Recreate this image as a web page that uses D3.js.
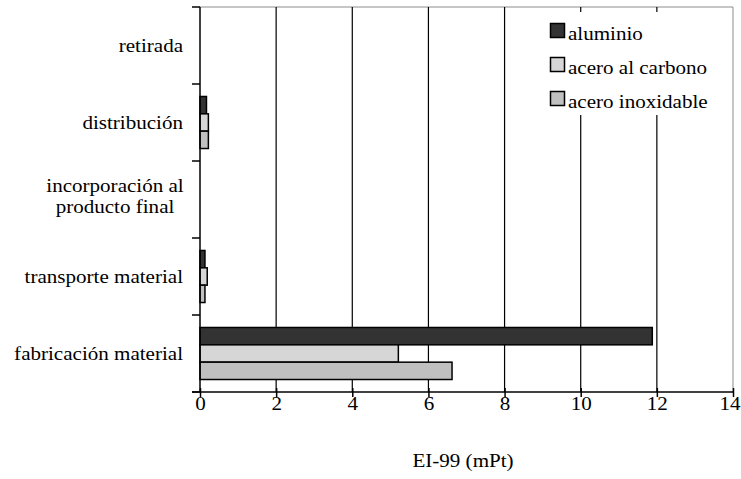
<!DOCTYPE html>
<html>
<head>
<meta charset="utf-8">
<script src="https://cdn.jsdelivr.net/npm/d3@7"></script>
<style>
  html, body { margin: 0; padding: 0; background: #fff; }
</style>
</head>
<body>
<svg id="chart" width="741" height="479"></svg>
<script>
// Life-cycle stages, top to bottom
const categories = [
  ["retirada"],
  ["distribución"],
  ["incorporación al", "producto final"],
  ["transporte material"],
  ["fabricación material"]
];
const seriesNames = ["aluminio", "acero al carbono", "acero inoxidable"];
const seriesColors = ["#333333", "#d6d6d6", "#c0c0c0"];
// EI-99 impact per stage (mPt), one array per material
const aluminio        = [0, 0.17, 0, 0.13, 11.88];
const aceroCarbono    = [0, 0.22, 0, 0.19, 5.21];
const aceroInoxidable = [0, 0.22, 0, 0.13, 6.62];
const xTicks = [0, 2, 4, 6, 8, 10, 12, 14];
const xTitle = "EI-99 (mPt)";

const values = [aluminio, aceroCarbono, aceroInoxidable];
const catKeys = categories.map(c => c.join(" "));

const svg = d3.select("#chart");
const W = 741;
const pLeft = 200, pRight = 733, pTop = 7, pBottom = 392;
const FONT = "'Liberation Serif'";
const FS = 18;

// the lettering is set slightly wide: derive the stretch from the widest label
const probe = svg.append("text").attr("font-family", FONT).attr("font-size", FS).text("fabricación material");
const SX = 169 / probe.node().getComputedTextLength();
probe.remove();

// text helper: places a horizontally stretched label at (tx, ty)
function label(parent, tx, ty, str, anchor) {
  return parent.append("text")
    .attr("transform", `translate(${tx},${ty}) scale(${SX},1)`)
    .attr("text-anchor", anchor || "start")
    .attr("font-family", FONT)
    .attr("font-size", FS).attr("fill", "#000")
    .text(str);
}

const x = d3.scaleLinear().domain([0, 14]).range([pLeft, pRight]);
const y = d3.scaleBand().domain(catKeys).range([pTop, pBottom]).paddingInner(0).paddingOuter(0);
const ySub = d3.scaleBand().domain(seriesNames).range([0, y.bandwidth()]).paddingInner(0).paddingOuter(0.72);

// plot frame (top and right edges)
svg.append("path")
  .attr("d", `M${pLeft},${pTop}H${pRight}V${pBottom}`)
  .attr("fill", "none").attr("stroke", "#8c8c8c").attr("stroke-width", 1);

// vertical gridlines
svg.append("g").selectAll("line")
  .data(xTicks.filter(t => t > 0 && t < 14))
  .join("line")
  .attr("x1", d => x(d)).attr("x2", d => x(d))
  .attr("y1", pTop).attr("y2", pBottom)
  .attr("stroke", "#000").attr("stroke-width", 1.2);

// bars
const rows = [];
catKeys.forEach((c, i) => seriesNames.forEach((s, j) => rows.push({ cat: c, s, j, v: values[j][i] })));
svg.append("g").selectAll("rect")
  .data(rows.filter(d => d.v > 0))
  .join("rect")
  .attr("x", x(0))
  .attr("y", d => y(d.cat) + ySub(d.s))
  .attr("width", d => x(d.v) - x(0))
  .attr("height", ySub.bandwidth())
  .attr("fill", d => seriesColors[d.j])
  .attr("stroke", "#000").attr("stroke-width", 1.5);

// legend (white box hides gridlines behind it)
const lg = svg.append("g");
lg.append("rect").attr("x", 543).attr("y", 12).attr("width", 186).attr("height", 103).attr("fill", "#fff");
seriesNames.forEach((s, j) => {
  const yy = 23 + j * 34;
  lg.append("rect").attr("x", 550.5).attr("y", yy + 0.5).attr("width", 14).attr("height", 14)
    .attr("fill", seriesColors[j]).attr("stroke", "#000").attr("stroke-width", 1.5);
  label(lg, 568, yy + 17, s);
});

// x axis
const xAxis = svg.append("g").attr("transform", `translate(0,${pBottom})`)
  .call(d3.axisBottom(x).tickValues(xTicks).tickSize(0).tickPadding(0).tickFormat(d3.format("d")));
xAxis.select(".domain").remove();
xAxis.selectAll("text").remove();
xAxis.selectAll(".tick").append("line").attr("y1", -4).attr("y2", 5).attr("stroke", "#000").attr("stroke-width", 1.5);
xAxis.selectAll(".tick").each(function (d) {
  const t = label(d3.select(this), 0, 18, d3.format("d")(d), "middle");
  // keep the last number inside the page
  const half = t.node().getComputedTextLength() * SX / 2;
  const over = x(d) + half - (W - 1);
  if (over > 0) t.attr("transform", `translate(${-over},18) scale(${SX},1)`);
});
svg.append("line").attr("x1", pLeft - 8).attr("x2", pRight).attr("y1", pBottom).attr("y2", pBottom)
  .attr("stroke", "#000").attr("stroke-width", 1.5);

// y axis: ticks at category boundaries
svg.append("line").attr("x1", pLeft).attr("x2", pLeft).attr("y1", pTop).attr("y2", pBottom)
  .attr("stroke", "#000").attr("stroke-width", 1.5);
const bounds = catKeys.map(c => y(c)).concat([pBottom]);
svg.append("g").selectAll("line").data(bounds).join("line")
  .attr("x1", pLeft - 8).attr("x2", pLeft).attr("y1", d => d).attr("y2", d => d)
  .attr("stroke", "#000").attr("stroke-width", 1.5);

// category labels (wrapped labels are centred, one line under the other)
categories.forEach((lines, i) => {
  const cy = y(catKeys[i]) + y.bandwidth() / 2;
  if (lines.length === 1) {
    label(svg, 183, cy + 6, lines[0], "end");
  } else {
    lines.forEach((ln, k) => label(svg, 115, cy - 7.5 + k * 21, ln, "middle"));
  }
});

// axis title
label(svg, 463, 467, xTitle, "middle");
</script>
</body>
</html>
